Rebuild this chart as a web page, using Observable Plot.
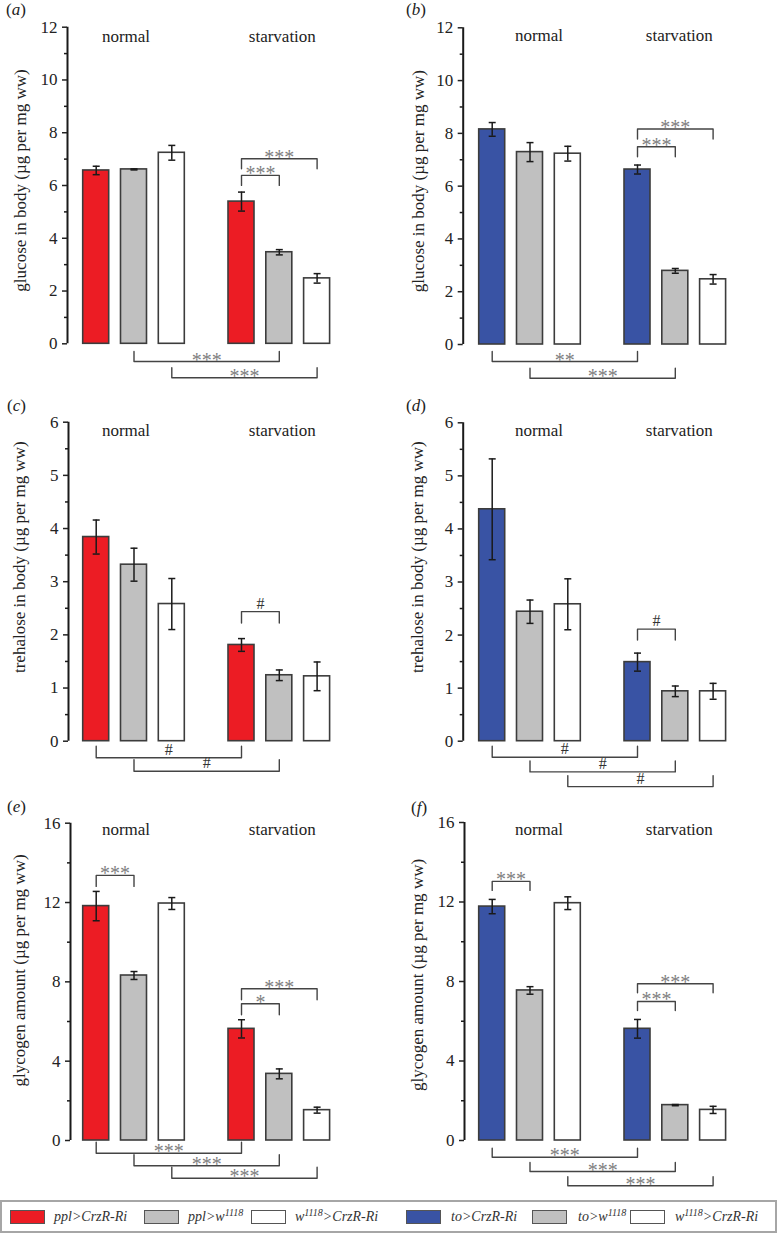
<!DOCTYPE html>
<html>
<head>
<meta charset="utf-8">
<script src="https://cdn.jsdelivr.net/npm/d3@7"></script>
<script src="https://cdn.jsdelivr.net/npm/@observablehq/plot@0.6"></script>
<style>
  html, body { margin: 0; padding: 0; background: #fff; }
  body { font-family: "Liberation Serif", "Times New Roman", serif; }
  #page { position: relative; width: 777px; height: 1234px; overflow: hidden; background: #fff; }
  .panel { position: absolute; }
  .tag { position: absolute; font-size: 17px; line-height: 17px; color: #222; white-space: nowrap; font-family: "Liberation Serif", serif; }
  #legend { position: absolute; left: 0; top: 1200px; width: 777px; height: 33px; box-sizing: border-box;
            border: 2px solid #a6a6a6; }
  .sw { position: absolute; top: 8px; width: 35px; height: 14px; box-sizing: border-box; border: 1px solid #555; }
  .lt { position: absolute; top: 0; height: 29px; line-height: 29px; font-size: 14px; font-style: italic; color: #333; white-space: nowrap; font-family: "Liberation Serif", serif; }
  .lt sup { font-size: 10px; line-height: 0; vertical-align: 5px; }
</style>
</head>
<body>
<div id="page"></div>
<script>
// ---------------- DATA ----------------
const groups = ["normal", "starvation"];
const genotypesPpl = ["ppl>CrzR-Ri", "ppl>w1118", "w1118>CrzR-Ri"];
const genotypesTo = ["to>CrzR-Ri", "to>w1118", "w1118>CrzR-Ri"];
const colorsPpl = ["#ec1c24", "#c0c0c0", "#ffffff"];
const colorsTo = ["#3953a4", "#c0c0c0", "#ffffff"];

// bar order: normal (3 genotypes), starvation (3 genotypes)
const glucosePpl = [6.57, 6.61, 7.24, 5.39, 3.47, 2.48];
const glucosePplSem = [0.16, 0.02, 0.28, 0.36, 0.10, 0.18];
const glucoseTo = [8.15, 7.29, 7.23, 6.63, 2.79, 2.47];
const glucoseToSem = [0.26, 0.36, 0.28, 0.17, 0.09, 0.18];
const trehalosePpl = [3.84, 3.32, 2.58, 1.81, 1.24, 1.22];
const trehalosePplSem = [0.32, 0.31, 0.48, 0.12, 0.10, 0.27];
const trehaloseTo = [4.37, 2.44, 2.58, 1.49, 0.94, 0.94];
const trehaloseToSem = [0.95, 0.22, 0.48, 0.17, 0.10, 0.15];
const glycogenPpl = [11.82, 8.32, 11.95, 5.63, 3.36, 1.53];
const glycogenPplSem = [0.74, 0.20, 0.30, 0.46, 0.25, 0.15];
const glycogenTo = [11.77, 7.55, 11.94, 5.62, 1.78, 1.54];
const glycogenToSem = [0.36, 0.19, 0.32, 0.47, 0.03, 0.18];

// significance brackets: [fromBar, toBar, label, side, tier]
const sigA = [[3, 4, "***", "above", 0], [3, 5, "***", "above", 1], [1, 4, "***", "below", 0], [2, 5, "***", "below", 1]];
const sigB = [[3, 4, "***", "above", 0], [3, 5, "***", "above", 1], [0, 3, "**", "below", 0], [1, 4, "***", "below", 1]];
const sigC = [[3, 4, "#", "above", 0], [0, 3, "#", "below", 0], [1, 4, "#", "below", 1]];
const sigD = [[3, 4, "#", "above", 0], [0, 3, "#", "below", 0], [1, 4, "#", "below", 1], [2, 5, "#", "below", 2]];
const sigE = [[0, 1, "***", "above", 0], [3, 4, "*", "above", 0], [3, 5, "***", "above", 1], [0, 3, "***", "below", 0], [1, 4, "***", "below", 1], [2, 5, "***", "below", 2]];
const sigF = [[0, 1, "***", "above", 0], [3, 4, "***", "above", 0], [3, 5, "***", "above", 1], [0, 3, "***", "below", 0], [1, 4, "***", "below", 1], [2, 5, "***", "below", 2]];

const ticksGlucose = [0, 2, 4, 6, 8, 10, 12];
const ticksTrehalose = [0, 1, 2, 3, 4, 5, 6];
const ticksGlycogen = [0, 4, 8, 12, 16];

const labelGlucose = "glucose in body (µg per mg ww)";
const labelTrehalose = "trehalose in body (µg per mg ww)";
const labelGlycogen = "glycogen amount (µg per mg ww)";

// ---------------- LAYOUT (code) ----------------
const U = 37.8;            // px per bar slot
const GAP = 0.844;         // extra slots between the two groups
const HW = 13 / U;         // bar half-width
const CAP = 3.5 / U;       // error cap half-width
const SPAN = 280;

const layouts = {
  a: {col: 0, row: 0, axisX: 67,   yTop: 26.7, y0: 343.3, labelX: 20,   labelY: 180,   upGap: 16.7, upStep: 16.7, lowStart: 17.7, lowStep: 16.3, leg: 10,   textBase: 41.5, tagX: 6,   tagB: 15},
  b: {col: 1, row: 0, axisX: 72.7, yTop: 27.3, y0: 344,   labelX: 28,   labelY: 180.7, upGap: 18.3, upStep: 17.7, lowStart: 17,   lowStep: 16.7, leg: 10,   textBase: 40.7, tagX: 16,  tagB: 15},
  c: {col: 0, row: 1, axisX: 68,   yTop: 21.7, y0: 340.7, labelX: 19,   labelY: 156.7, upGap: 27,   upStep: 17,   lowStart: 16.6, lowStep: 13.4, leg: 11.5, textBase: 35.7, tagX: 7,   tagB: 11},
  d: {col: 1, row: 1, axisX: 72.7, yTop: 22.3, y0: 340.7, labelX: 27.5, labelY: 156.7, upGap: 24,   upStep: 17,   lowStart: 16,   lowStep: 14.7, leg: 11,   textBase: 35.7, tagX: 16,  tagB: 11},
  e: {col: 0, row: 2, axisX: 70,   yTop: 22.7, y0: 340,   labelX: 19,   labelY: 170,   upGap: 16,   upStep: 15,   lowStart: 12.7, lowStep: 12.5, leg: 11,   textBase: 34.3, tagX: 7,   tagB: 12},
  f: {col: 1, row: 2, axisX: 74,   yTop: 22,   y0: 340,   labelX: 27.5, labelY: 174.5, upGap: 18,   upStep: 17.7, lowStart: 16.7, lowStep: 14.3, leg: 9,    textBase: 34.3, tagX: 21,  tagB: 13}
};

const panels = [
  {tag: "a", values: glucosePpl, errors: glucosePplSem, colors: colorsPpl, sig: sigA, ticks: ticksGlucose, ylabel: labelGlucose},
  {tag: "b", values: glucoseTo, errors: glucoseToSem, colors: colorsTo, sig: sigB, ticks: ticksGlucose, ylabel: labelGlucose},
  {tag: "c", values: trehalosePpl, errors: trehalosePplSem, colors: colorsPpl, sig: sigC, ticks: ticksTrehalose, ylabel: labelTrehalose},
  {tag: "d", values: trehaloseTo, errors: trehaloseToSem, colors: colorsTo, sig: sigD, ticks: ticksTrehalose, ylabel: labelTrehalose},
  {tag: "e", values: glycogenPpl, errors: glycogenPplSem, colors: colorsPpl, sig: sigE, ticks: ticksGlycogen, ylabel: labelGlycogen},
  {tag: "f", values: glycogenTo, errors: glycogenToSem, colors: colorsTo, sig: sigF, ticks: ticksGlycogen, ylabel: labelGlycogen}
];

const page = document.getElementById("page");
const FONT = "'Liberation Serif', 'Times New Roman', serif";

function drawPanel(p) {
  const L = layouts[p.tag];
  const W = L.col === 0 ? 390 : 387;
  const H = 400;
  const left = L.col === 0 ? 0 : 390;
  const top = L.row * 400;
  const yMax = p.ticks[p.ticks.length - 1];
  const ppu = (L.y0 - L.yTop) / yMax;
  const bar0 = L.col === 0 ? 95.7 : 101.7;
  const x0 = -(bar0 - L.axisX) / U;

  const pos = p.values.map((_, i) => i + (i >= 3 ? GAP : 0));
  const bars = p.values.map((v, i) => ({p: pos[i], v, e: p.errors[i], c: p.colors[i % 3]}));
  const caps = bars.flatMap(d => [{p: d.p, y: d.v + d.e}, {p: d.p, y: d.v - d.e}]);
  const minor = p.ticks.slice(1).map((t, i) => (t + p.ticks[i]) / 2);

  const pts = [], labs = [];
  p.sig.forEach(([a, b, text, side, tier], k) => {
    let linePx, legPx;
    if (side === "above") {
      const topV = d3.max(bars.slice(a, b + 1), d => d.v + d.e);
      linePx = topV * ppu + L.upGap + tier * L.upStep;
      legPx = linePx - L.leg;
    } else {
      linePx = -(L.lowStart + tier * L.lowStep);
      legPx = linePx + L.leg;
    }
    const yl = linePx / ppu, yg = legPx / ppu;
    const xa = pos[a], xb = pos[b];
    pts.push({k, x: xa, y: yg}, {k, x: xa, y: yl}, {k, x: xb, y: yl}, {k, x: xb, y: yg});
    labs.push({x: (xa + xb) / 2, y: yl, text});
  });
  const starLabs = labs.filter(d => !d.text.includes("#"));
  const hashLabs = labs.filter(d => d.text.includes("#"));

  const normalDx = L.col === 0 ? -8 : 9;
  const starvDx = L.col === 0 ? 3 : 4;

  const chart = Plot.plot({
    width: W, height: H,
    marginLeft: L.axisX, marginRight: W - L.axisX - SPAN,
    marginTop: L.yTop, marginBottom: H - L.y0,
    x: {domain: [x0, x0 + SPAN / U], range: [L.axisX, L.axisX + SPAN], axis: null},
    y: {domain: [0, yMax]},
    color: {type: "identity"},
    style: {fontFamily: FONT, fontSize: "17px", background: "none", overflow: "visible", color: "#222"},
    marks: [
      Plot.rect(bars, {x1: d => d.p - HW, x2: d => d.p + HW, y1: 0, y2: "v", fill: "c", stroke: "#3c3c3c", strokeWidth: 1.6}),
      Plot.ruleX(bars, {x: "p", y1: d => d.v - d.e, y2: d => d.v + d.e, stroke: "#1a1a1a", strokeWidth: 1.5}),
      Plot.link(caps, {x1: d => d.p - CAP, x2: d => d.p + CAP, y1: "y", y2: "y", stroke: "#1a1a1a", strokeWidth: 1.5}),
      Plot.ruleX([x0], {y1: 0, y2: yMax, stroke: "#1a1a1a", strokeWidth: 2}),
      Plot.axisY(minor, {tickSize: 3, tickFormat: () => "", label: null, stroke: "#1a1a1a", strokeWidth: 1.5}),
      Plot.axisY(p.ticks, {tickSize: 5, tickPadding: 5, fontSize: 17, label: null, color: "#222", strokeWidth: 1.5,
                           tickFormat: d => String(d), fontFamily: FONT}),
      Plot.line(pts, {x: "x", y: "y", z: "k", stroke: "#444", strokeWidth: 1.4}),
      Plot.text(starLabs, {x: "x", y: "y", text: "text", lineAnchor: "bottom", dy: 5, fontSize: 20, fill: "#808080", fontFamily: FONT}),
      Plot.text(hashLabs, {x: "x", y: "y", text: "text", lineAnchor: "bottom", dy: -3, fontSize: 16, fill: "#333", fontFamily: FONT}),
      Plot.text(groups, {x: (d, i) => i === 0 ? pos[1] + normalDx / U : pos[4] + starvDx / U, frameAnchor: "top",
                         dy: L.textBase - L.yTop, lineAnchor: "bottom", text: d => d, fontSize: 17, fill: "#222", fontFamily: FONT}),
      Plot.text([p.ylabel], {frameAnchor: "top-left", dx: L.labelX - L.axisX, dy: L.labelY - L.yTop, rotate: -90,
                             textAnchor: "middle", lineAnchor: "middle", text: d => d, fontSize: 17, fill: "#222", fontFamily: FONT})
    ]
  });
  const wrap = document.createElement("div");
  wrap.className = "panel";
  wrap.style.left = left + "px";
  wrap.style.top = top + "px";
  wrap.appendChild(chart);
  page.appendChild(wrap);

  const tag = document.createElement("div");
  tag.className = "tag";
  tag.style.left = (left + L.tagX) + "px";
  tag.style.top = (top + L.tagB - 14) + "px";
  tag.innerHTML = "(<i>" + p.tag + "</i>)";
  page.appendChild(tag);
}

panels.forEach(drawPanel);

// ---------------- LEGEND ----------------
const legendLabels = [...genotypesPpl, ...genotypesTo];
const legendColors = [...colorsPpl, ...colorsTo];
const swatchLeft = [8, 142, 249, 404, 530, 628];
const textLeft = [52, 186, 293, 449, 576, 673];
const legend = document.createElement("div");
legend.id = "legend";
const esc = s => s.replace(/&/g, "&amp;").replace(/</g, "&lt;").replace(/>/g, "&gt;");
legendLabels.forEach((name, i) => {
  const sw = document.createElement("div");
  sw.className = "sw";
  sw.style.left = swatchLeft[i] + "px";
  sw.style.background = legendColors[i];
  legend.appendChild(sw);
  const t = document.createElement("div");
  t.className = "lt";
  t.style.left = textLeft[i] + "px";
  t.innerHTML = esc(name).replace(/w1118/g, "w<sup>1118</sup>");
  legend.appendChild(t);
});
page.appendChild(legend);
</script>
</body>
</html>
